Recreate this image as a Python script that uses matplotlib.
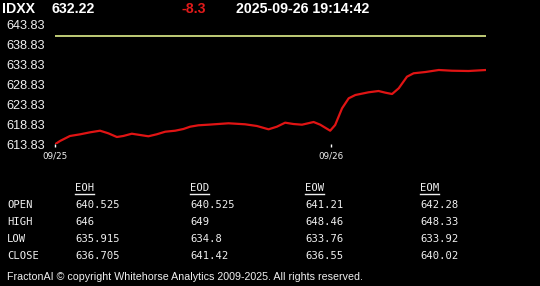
import numpy as np
import matplotlib
matplotlib.use("Agg")
import matplotlib.pyplot as plt
from matplotlib.lines import Line2D

# header
symbol = "IDXX"
last_price = "632.22"
change = "-8.3"
stamp = "2025-09-26 19:14:42"

# price path, x in days since 09/25 open
t = [0.0, 0.018, 0.054, 0.091, 0.127, 0.163, 0.193, 0.224, 0.247, 0.278,
     0.308, 0.338, 0.368, 0.399, 0.435, 0.465, 0.489, 0.519, 0.555, 0.628,
     0.688, 0.731, 0.773, 0.803, 0.833, 0.863, 0.894, 0.936, 0.960, 0.996,
     1.014, 1.039, 1.063, 1.087, 1.135, 1.171, 1.196, 1.220, 1.244, 1.274,
     1.298, 1.341, 1.389, 1.437, 1.497, 1.56]
price = [613.83, 614.65, 615.90, 616.32, 616.82, 617.22, 616.57, 615.65, 615.90, 616.47,
         616.15, 615.83, 616.32, 616.97, 617.22, 617.65, 618.22, 618.57, 618.72, 619.07,
         618.82, 618.39, 617.57, 618.22, 619.22, 618.89, 618.72, 619.39, 618.72, 617.22,
         618.64, 622.81, 625.30, 626.12, 626.80, 627.12, 626.70, 626.37, 627.79, 630.69,
         631.54, 631.86, 632.36, 632.18, 632.11, 632.36]
ref_level = 640.84
y_ticks = [613.83, 618.83, 623.83, 628.83, 633.83, 638.83, 643.83]
x_ticks = [0.0, 1.0]
x_labels = ["09/25", "09/26"]

# summary table
cols = ["EOH", "EOD", "EOW", "EOM"]
rows = ["OPEN", "HIGH", "LOW", "CLOSE"]
vals = [["640.525", "640.525", "641.21", "642.28"],
        ["646", "649", "648.46", "648.33"],
        ["635.915", "634.8", "633.76", "633.92"],
        ["636.705", "641.42", "636.55", "640.02"]]
footer = "FractonAI \u00a9 copyright Whitehorse Analytics 2009-2025. All rights reserved."

W, H = 540, 286
fig = plt.figure(figsize=(W / 100, H / 100), dpi=100, facecolor="black")

def fx(px):
    return px / W

def fy(py):
    return 1 - py / H

ax = fig.add_axes([fx(55), fy(144.3), fx(486 - 55), (144.3 - 24) / H])
ax.set_facecolor("black")
ax.plot(t, price, color="#e01414", lw=1.6, solid_capstyle="round", solid_joinstyle="round")
ax.axhline(ref_level, color="#cfdc80", lw=1.3)
ax.set_xlim(0, 1.56)
ax.set_ylim(613.83, 643.83)
for s in ax.spines.values():
    s.set_visible(False)
ax.set_yticks(y_ticks)
ax.set_yticklabels([f"{v:.2f}" for v in y_ticks], family="Liberation Sans", fontsize=9.2, color="#f0f0f0")
ax.tick_params(axis="y", length=0, pad=7)
ax.set_xticks(x_ticks)
ax.set_xticklabels(x_labels, family="DejaVu Sans", fontsize=6.3, color="#f0f0f0")
ax.tick_params(axis="x", length=2.0, width=1.0, color="white", pad=3, direction="out")

# header line
hy = fy(9)
hdr = dict(color="white", fontsize=10.2, fontweight="bold", family="Liberation Sans", va="center")
fig.text(fx(2), hy, symbol, **hdr)
fig.text(fx(51), hy, last_price, **hdr)
fig.text(fx(181), hy, change, **dict(hdr, color="#e01a1a"))
fig.text(fx(236), hy, stamp, **hdr)

# table
mono = dict(family="DejaVu Sans Mono", fontsize=7.6, color="#f0f0f0", va="center")
col_x = [75, 190, 305, 420]
row_y = [204.5, 221.7, 239, 256]
headers = []
for cx, c in zip(col_x, cols):
    headers.append(fig.text(fx(cx), fy(188.3), c, **mono))
for ry, r, rv in zip(row_y, rows, vals):
    fig.text(fx(7), fy(ry), r, **mono)
    for cx, v in zip(col_x, rv):
        fig.text(fx(cx), fy(ry), v, **mono)

fig.text(fx(7), fy(276.5), footer, color="#f0f0f0", fontsize=7.7, family="Liberation Sans", va="center")

# underline the column headers
fig.canvas.draw()
r = fig.canvas.get_renderer()
for h in headers:
    bb = h.get_window_extent(r)
    fig.add_artist(Line2D([bb.x0 / W, bb.x1 / W], [fy(194), fy(194)], color="#f0f0f0", lw=1.0))

fig.savefig("out.png", dpi=100, facecolor="black")
